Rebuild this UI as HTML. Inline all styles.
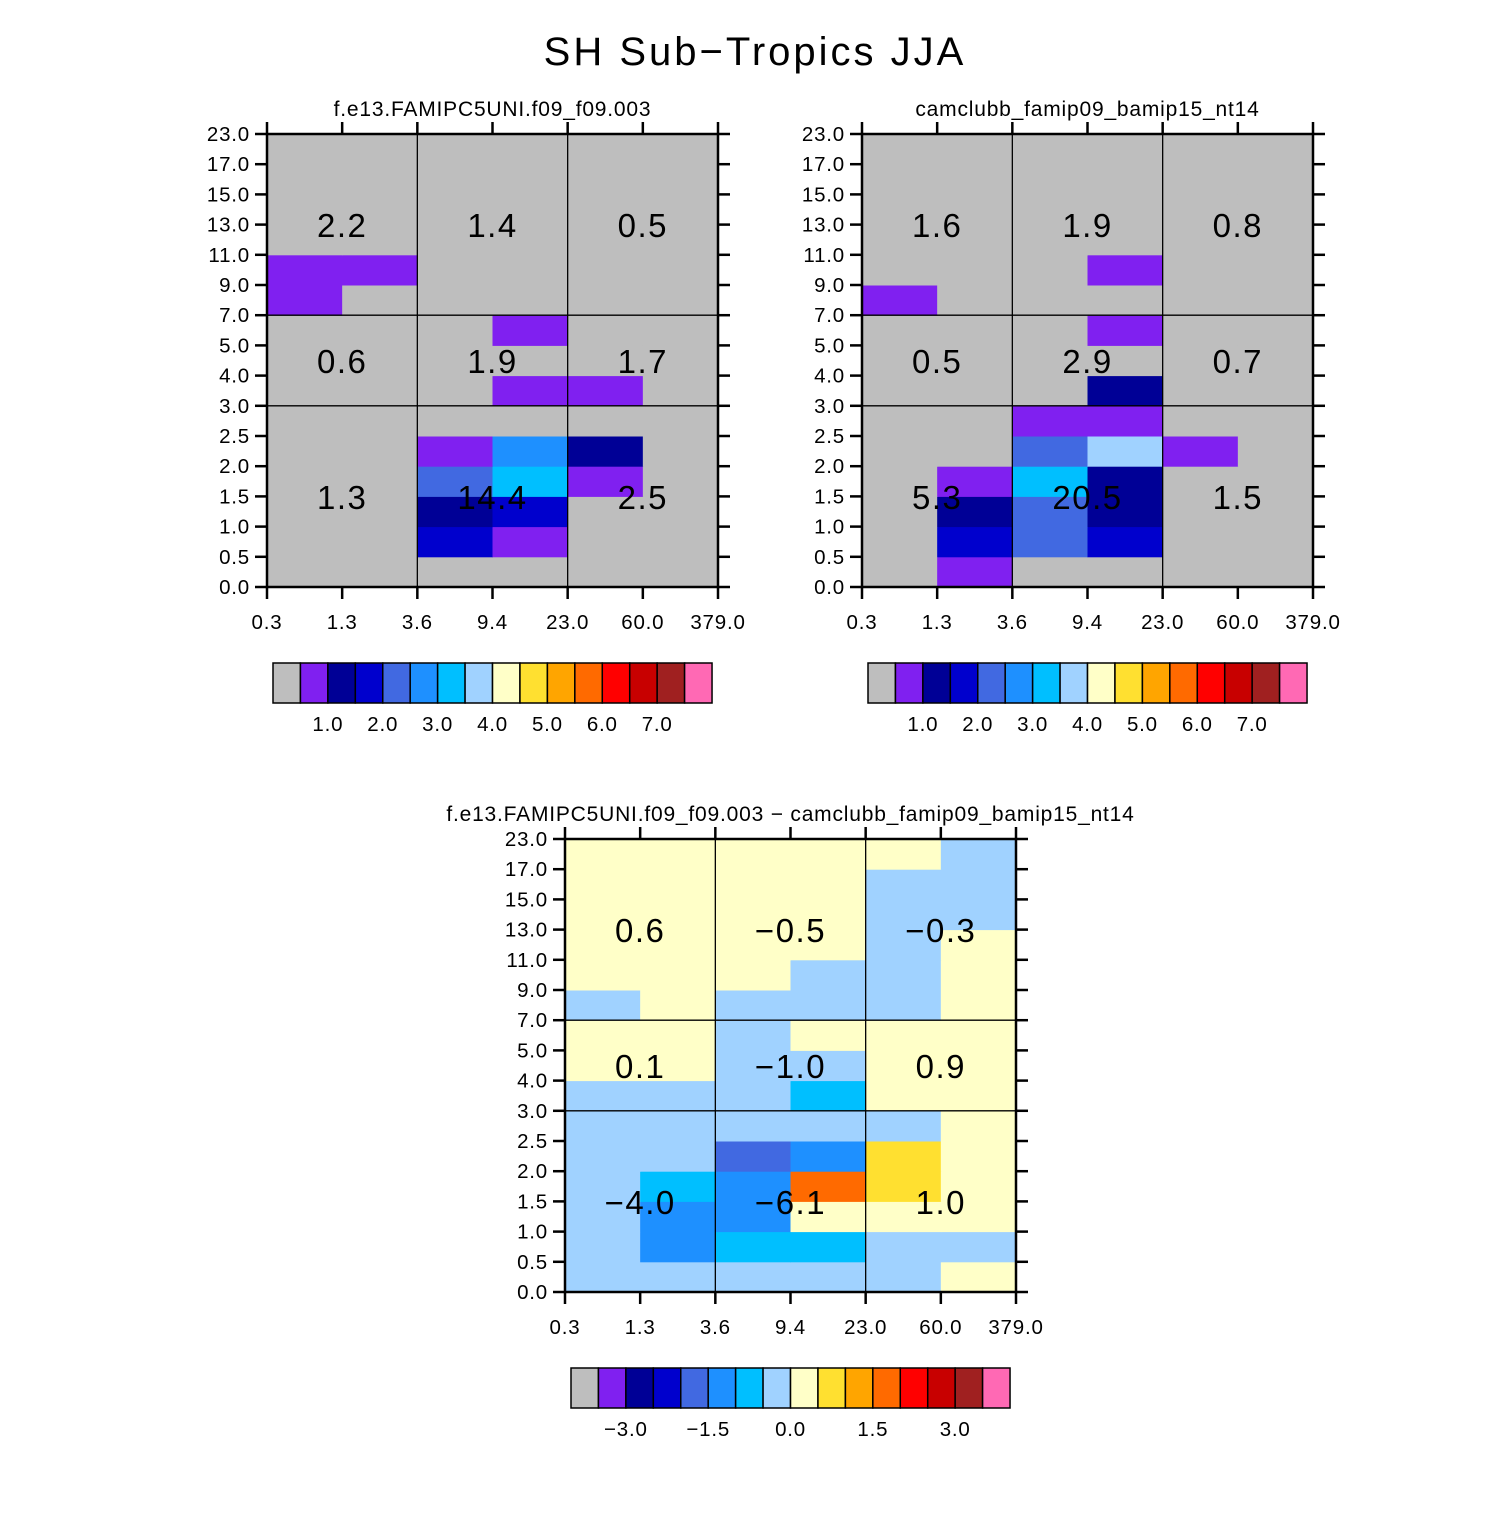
<!DOCTYPE html>
<html><head><meta charset="utf-8"><style>
html,body{margin:0;padding:0;background:#fff;}
svg text{font-family:"Liberation Sans",sans-serif;fill:#000;}
</style></head><body>
<svg id="chart" width="1510" height="1510" viewBox="0 0 1510 1510" xmlns="http://www.w3.org/2000/svg">
<rect width="1510" height="1510" fill="#fff"/>
<text x="755" y="65" font-size="40" text-anchor="middle" letter-spacing="3">SH Sub−Tropics JJA</text>
</svg>
<script>
const palette=["#BEBEBE","#8020F0","#000096","#0000CD","#4169E1","#1E90FF","#00BFFF","#A0D2FF","#FFFFC8","#FFE030","#FFA500","#FF6A00","#FF0000","#C80000","#A02020","#FF69B4"];
const yTickLabels=["0.0","0.5","1.0","1.5","2.0","2.5","3.0","4.0","5.0","7.0","9.0","11.0","13.0","15.0","17.0","23.0"];
const xTickLabels=["0.3","1.3","3.6","9.4","23.0","60.0","379.0"];
const grid1=[[0,0,0,0,0,0],[0,0,3,1,0,0],[0,0,2,3,0,0],[0,0,4,6,1,0],[0,0,1,5,2,0],[0,0,0,0,0,0],[0,0,0,1,1,0],[0,0,0,0,0,0],[0,0,0,1,0,0],[1,0,0,0,0,0],[1,1,0,0,0,0],[0,0,0,0,0,0],[0,0,0,0,0,0],[0,0,0,0,0,0],[0,0,0,0,0,0]];
const grid2=[[0,1,0,0,0,0],[0,3,4,3,0,0],[0,2,4,2,0,0],[0,1,6,2,0,0],[0,0,4,7,1,0],[0,0,1,1,0,0],[0,0,0,2,0,0],[0,0,0,0,0,0],[0,0,0,1,0,0],[1,0,0,0,0,0],[0,0,0,1,0,0],[0,0,0,0,0,0],[0,0,0,0,0,0],[0,0,0,0,0,0],[0,0,0,0,0,0]];
const grid3=[[7,7,7,7,7,8],[7,5,6,6,7,7],[7,5,5,8,8,8],[7,6,5,11,9,8],[7,7,4,5,9,8],[7,7,7,7,7,8],[7,7,7,6,8,8],[8,8,7,7,8,8],[8,8,7,8,8,8],[7,8,7,7,7,8],[8,8,8,7,7,8],[8,8,8,8,7,8],[8,8,8,8,7,7],[8,8,8,8,7,7],[8,8,8,8,8,7]];
const values1=["1.3","14.4","2.5","0.6","1.9","1.7","2.2","1.4","0.5"];
const values2=["5.3","20.5","1.5","0.5","2.9","0.7","1.6","1.9","0.8"];
const values3=["−4.0","−6.1","1.0","0.1","−1.0","0.9","0.6","−0.5","−0.3"];
const cbLabels12=["1.0","2.0","3.0","4.0","5.0","6.0","7.0"];
const cbLabels3=["−3.0","−1.5","0.0","1.5","3.0"];
const cbLabelSlots12=[2,4,6,8,10,12,14];
const cbLabelSlots3=[2,5,8,11,14];

const NS="http://www.w3.org/2000/svg";
const svg=document.getElementById('chart');
function mk(tag,attrs,parent){const e=document.createElementNS(NS,tag);for(const k in attrs)e.setAttribute(k,attrs[k]);(parent||svg).appendChild(e);return e;}

function panel(name,x0,y0,title,grid,values,cbLabels,cbSlots){
  const W=451,H=453,nc=6,nr=15;
  const g=mk('g',{});
  
  
  const xs=c=>x0+c*W/nc, ys=r=>y0+H-r*H/nr;
  const t=mk('text',{x:x0+W/2,y:y0-18,'font-size':21,'text-anchor':'middle','letter-spacing':0.8},g);t.textContent=title;
  
  
  grid.forEach((row,r)=>row.forEach((v,c)=>{
    const rc=mk('rect',{x:xs(c),y:ys(r+1),width:W/nc+0.5,height:H/nr+0.5,fill:palette[v]},g);
    
    
  }));
  [2,4].forEach(c=>mk('line',{x1:xs(c),x2:xs(c),y1:y0,y2:y0+H,stroke:'#000','stroke-width':1.3},g));
  [6,9].forEach(r=>mk('line',{x1:x0,x2:x0+W,y1:ys(r),y2:ys(r),stroke:'#000','stroke-width':1.3},g));
  const bc=[1,3,5];
  values.forEach((v,i)=>{
    const ry=[497-134,361-134,225-134][Math.floor(i/3)];
    const tx=mk('text',{x:xs(bc[i%3]),y:y0+ry+12,'font-size':33,'text-anchor':'middle','letter-spacing':1.5},g);
    tx.textContent=v;
    
    
  });
  mk('rect',{x:x0,y:y0,width:W,height:H,fill:'none',stroke:'#000','stroke-width':2.5},g);
  for(let r=0;r<=nr;r++){
    mk('line',{x1:x0-12,x2:x0,y1:ys(r),y2:ys(r),stroke:'#000','stroke-width':2.5},g);
    mk('line',{x1:x0+W,x2:x0+W+12,y1:ys(r),y2:ys(r),stroke:'#000','stroke-width':2.5},g);
    const tl=mk('text',{x:x0-17,y:ys(r)+7,'font-size':20.5,'text-anchor':'end','letter-spacing':0.8},g);tl.textContent=yTickLabels[r];
    
    
  }
  for(let c=0;c<=nc;c++){
    mk('line',{x1:xs(c),x2:xs(c),y1:y0+H,y2:y0+H+12,stroke:'#000','stroke-width':2.5},g);
    mk('line',{x1:xs(c),x2:xs(c),y1:y0-12,y2:y0,stroke:'#000','stroke-width':2.5},g);
    const tl=mk('text',{x:xs(c),y:y0+H+42,'font-size':20.5,'text-anchor':'middle','letter-spacing':0.8},g);tl.textContent=xTickLabels[c];
    
    
  }
  const cx=x0+6, cy=y0+H+76, bw=27.44, bh=40;
  const cb=mk('g',{},g);
  
  
  palette.forEach((p,i)=>mk('rect',{x:cx+i*bw,y:cy,width:bw,height:bh,fill:p,stroke:'#000','stroke-width':1.5},cb));
  cbLabels.forEach((l,i)=>{
    const tl=mk('text',{x:cx+cbSlots[i]*bw,y:cy+bh+28,'font-size':20.5,'text-anchor':'middle','letter-spacing':0.8},cb);tl.textContent=l;
    
    
  });
}
panel('panel-famipc5',267,134,'f.e13.FAMIPC5UNI.f09_f09.003',grid1,values1,cbLabels12,cbLabelSlots12);
panel('panel-camclubb',862,134,'camclubb_famip09_bamip15_nt14',grid2,values2,cbLabels12,cbLabelSlots12);
panel('panel-difference',565,839,'f.e13.FAMIPC5UNI.f09_f09.003 − camclubb_famip09_bamip15_nt14',grid3,values3,cbLabels3,cbLabelSlots3);
</script>
</body></html>
